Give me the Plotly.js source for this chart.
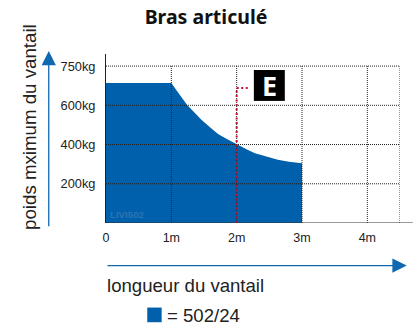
<!DOCTYPE html>
<html><head><meta charset="utf-8">
<script src="https://cdn.plot.ly/plotly-3.0.1.min.js"></script>
<style>html,body{margin:0;padding:0;background:#fff}#c{width:413px;height:330px}</style></head>
<body><div id="c"></div>
<script>
const capacityX = [0, 1, 1.1, 1.245, 1.35, 1.46, 1.6, 1.72, 1.85, 2, 2.15, 2.28, 2.45, 2.63, 2.8, 3];
const capacityY = [714, 714, 667, 600, 565, 526, 486, 453, 428, 400, 376, 356, 338, 322, 312, 305];
const markerX = [2, 2, 2.2];
const markerY = [0, 688, 688];
const xTickVals = [0, 1, 2, 3, 4];
const xTickText = ['0', '1m', '2m', '3m', '4m'];
const yTickVals = [200, 400, 600, 800];
const yTickText = ['200kg', '400kg', '600kg', '750kg'];
const xGrid = [1, 2, 3, 4, 4.5];
const yGrid = [200, 400, 600, 800];
const X0 = 106, X1 = 400.3, YB = 223.3, YT = 54, W = 413, H = 330;
const blue = '#0160ab';
const font = 'Liberation Sans, Arial, sans-serif';
const px = v => (v - X0) / (X1 - X0), py = v => (YB - v) / (YB - YT);
const gridStyle = {color:'#222',width:1,dash:'1px,1px'};
const traces = [
  {x:capacityX,y:capacityY,type:'scatter',mode:'lines',fill:'tozeroy',fillcolor:blue,line:{color:blue,width:0},hoverinfo:'skip'}
];
xGrid.forEach(v => traces.push({x:[v,v],y:[0,800],type:'scatter',mode:'lines',line:gridStyle,hoverinfo:'skip'}));
yGrid.forEach(v => traces.push({x:[0,4.5],y:[v,v],type:'scatter',mode:'lines',line:gridStyle,hoverinfo:'skip'}));
traces.push({x:markerX,y:markerY,type:'scatter',mode:'lines',line:{color:'#c8102e',width:2,dash:'2px,2.5px'},hoverinfo:'skip'});
const shapes = [
  {type:'rect',layer:'above',xref:'paper',yref:'paper',x0:px(254),x1:px(285),y0:py(101),y1:py(70),fillcolor:'#000',line:{width:0}},
  {type:'line',layer:'above',xref:'paper',yref:'y',x0:0,x1:px(413),y0:0,y1:0,line:{color:'#333',width:1.2}},
  {type:'rect',layer:'above',xref:'paper',yref:'paper',x0:px(147.3),x1:px(161.7),y0:py(322.7),y1:py(308),fillcolor:blue,line:{width:0}}
];
const note = (text, x, y, size, anchor, extra) => Object.assign({text, xref:'paper', yref:'paper', x:px(x), y:py(y), showarrow:false, xanchor:anchor, yanchor:'middle', font:{family:font,size:size,color:'#222'}}, extra || {});
const arrow = (x, y, ax, ay) => ({xref:'paper',yref:'paper',axref:'paper',ayref:'paper',x:px(x),y:py(y),ax:px(ax),ay:py(ay),text:'',showarrow:true,arrowhead:2,arrowsize:2.2,arrowwidth:1.3,arrowcolor:'#0f68b0'});
const layout = {
  width:W,height:H,margin:{l:X0,r:W-X1,t:YT,b:H-YB},showlegend:false,paper_bgcolor:'#fff',plot_bgcolor:'#fff',
  title:{text:'<b>Bras articulé</b>',x:206/W,xanchor:'center',y:1-17/H,yanchor:'middle',font:{family:'Noto Sans, sans-serif',size:19.5,color:'#111'}},
  xaxis:{range:[0,4.5],tickvals:xTickVals,ticktext:xTickText,ticks:'',showgrid:false,zeroline:false,showline:false,tickfont:{family:font,size:12.5,color:'#222'},ticklabelstandoff:5,fixedrange:true},
  yaxis:{range:[0,(YB-YT)/(YB-184)*200],tickvals:yTickVals,ticktext:yTickText,ticks:'',showgrid:false,zeroline:false,showline:true,linecolor:'#222',linewidth:1,tickfont:{family:font,size:12.8,color:'#222'},ticklabelstandoff:7,ticklabelshift:-1.5,fixedrange:true},
  shapes:shapes,
  annotations:[
    note('E',269.5,86,27,'center',{font:{family:'Open Sans, sans-serif',size:27,color:'#fff',weight:700}}),
    note('poids mximum du vantail',30,127,18.7,'center',{textangle:-90}),
    note('longueur du vantail',105,286,18.6,'left'),
    note('= 502/24',165,316,18.6,'left'),
    note('<b>LIVI502</b>',108,215,9.7,'left',{font:{family:font,size:9.7,color:'#2b74b4'}}),
    arrow(48.7,51,48.7,228),
    arrow(407,266,106,266)
  ]
};
Plotly.newPlot('c',traces,layout,{displayModeBar:false,staticPlot:true});
</script></body></html>
